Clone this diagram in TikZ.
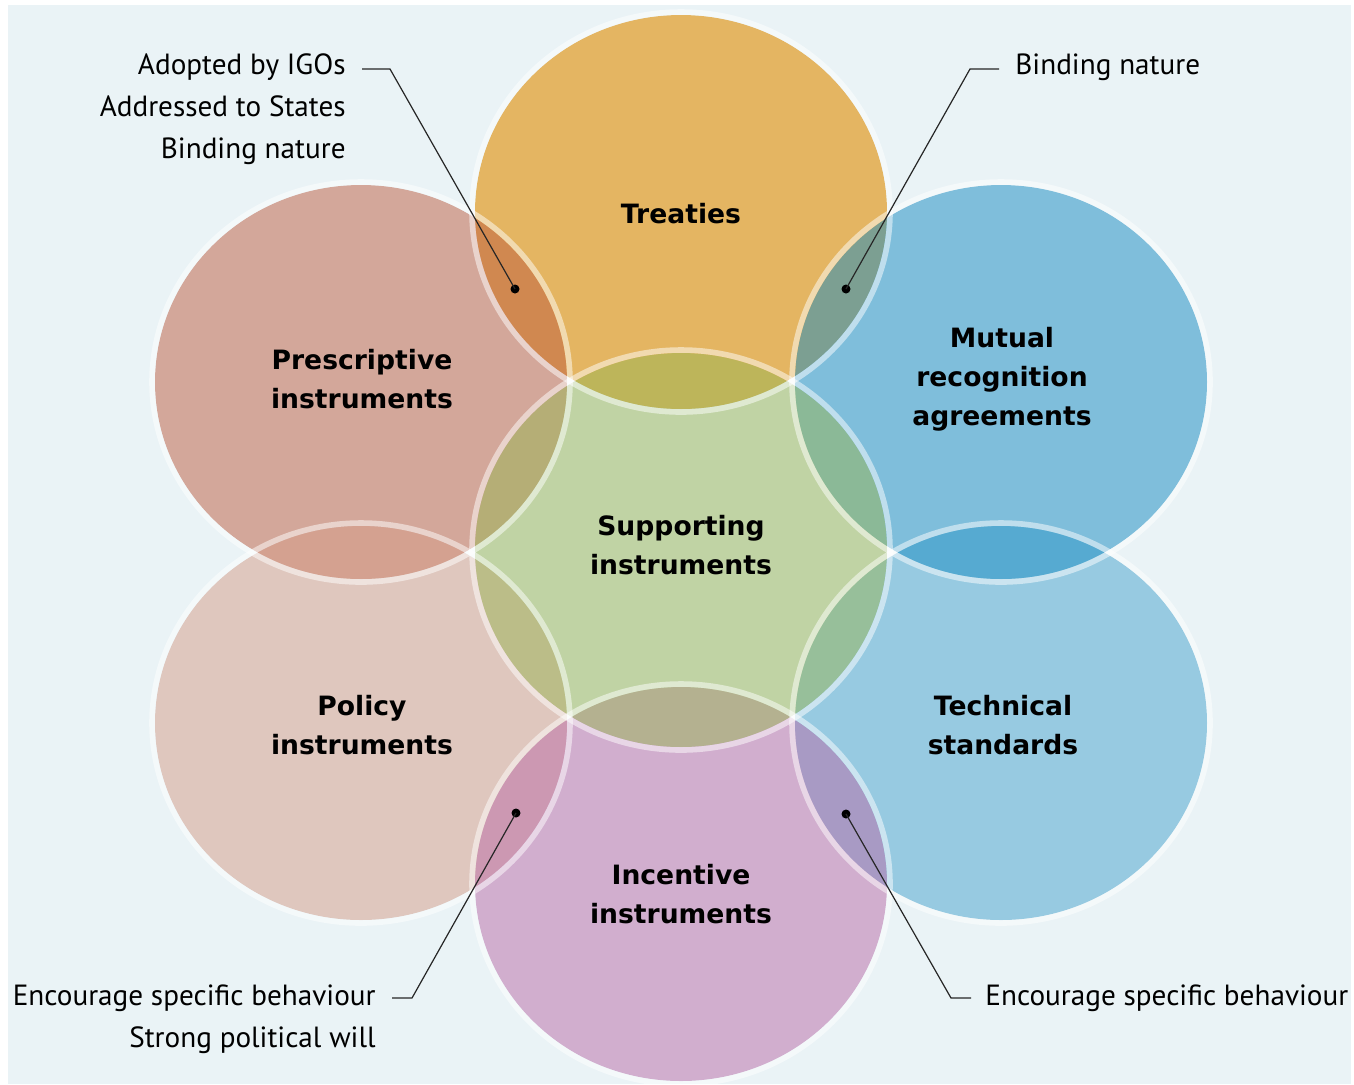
\documentclass[tikz,border=0pt]{standalone}
\usepackage{fontspec}
\setmainfont{PT Sans}
\newfontfamily\titlefont{DejaVu Sans}
\usepackage{tikz}
\definecolor{bgblue}{RGB}{234,243,246}
\definecolor{treatycol}{RGB}{225,149,20}
\definecolor{prescol}{RGB}{190,93,64}
\definecolor{mutualcol}{RGB}{22,139,194}
\definecolor{suppcol}{RGB}{152,181,84}
\definecolor{policycol}{RGB}{214,157,136}
\definecolor{techcol}{RGB}{70,163,206}
\definecolor{incentcol}{RGB}{186,107,168}
\tikzset{circ/.style = {fill, circle, inner sep = 0, minimum size = 4.5}}
\tikzset{bubble/.style = {fill opacity = 0.5}}
\tikzset{rim/.style = {draw = white, draw opacity = 0.5, line width = 2.8pt}}
\tikzset{title/.style = {font = \titlefont\bfseries\fontsize{13.3}{19.5}\selectfont, align = center}}
\tikzset{note/.style = {font = \fontsize{14.6}{21}\selectfont, inner sep = 0}}
\tikzset{leader/.style = {draw = black!85, line width = 0.6pt}}

\begin{document}
\begin{tikzpicture}[x = 0.5pt, y = -0.5pt]
    \useasboundingbox (0, 0) rectangle (1354, 1084);
    \fill [white] (0, 0) rectangle (1354, 1084);
    \fill [bgblue] (8, 5) rectangle (1351, 1084);

    \fill [treatycol, fill opacity = 0.65] (681, 212) ellipse [x radius = 206, y radius = 197];
    \fill [prescol, bubble] (361, 382) ellipse [x radius = 206, y radius = 197];
    \fill [techcol, bubble] (1001, 723) ellipse [x radius = 206, y radius = 197];
    \fill [mutualcol, bubble] (1001, 382) ellipse [x radius = 206, y radius = 197];
    \fill [policycol, bubble] (361, 723) ellipse [x radius = 206, y radius = 197];
    \fill [incentcol, bubble] (681, 884) ellipse [x radius = 206, y radius = 197];
    \fill [suppcol, bubble] (681, 550) ellipse [x radius = 206, y radius = 197];

    \foreach \cx/\cy in {681/212, 361/382, 1001/382, 681/550, 361/723, 1001/723, 681/884}
      \draw [rim] (\cx, \cy) ellipse [x radius = 209, y radius = 200];

    \node [title] (treaties) at (681, 214) {Treaties};
    \node [title] (prescriptive) at (362, 379) {Prescriptive\\instruments};
    \node [title] (mutual) at (1002, 379) {Mutual\\recognition\\agreements};
    \node [title] (supporting) at (681, 545) {Supporting\\instruments};
    \node [title] (policy) at (362, 725) {Policy\\instruments};
    \node [title] (technical) at (1003, 725) {Technical\\standards};
    \node [title] (incentive) at (681, 894) {Incentive\\instruments};

    \node [note, anchor = base east] (adopted) at (346, 74) {Adopted by IGOs};
    \node [note, anchor = base east] (addressed) at (346, 116) {Addressed to States};
    \node [note, anchor = base east] (bindingL) at (346, 158) {Binding nature};
    \node [note, anchor = base west] (bindingR) at (1015, 74) {Binding nature};
    \node [note, anchor = base east] (encourageL) at (376, 1005) {Encourage specific behaviour};
    \node [note, anchor = base east] (strong) at (376, 1047) {Strong political will};
    \node [note, anchor = base west] (encourageR) at (985, 1005) {Encourage specific behaviour};

    \node [circ] (dotTL) at (515, 289) {};
    \node [circ] (dotTR) at (846, 289) {};
    \node [circ] (dotBL) at (516, 813) {};
    \node [circ] (dotBR) at (846, 814) {};

    \coordinate (bendTL) at (390, 69);
    \coordinate (bendTR) at (970, 69);
    \coordinate (bendBL) at (412, 998);
    \coordinate (bendBR) at (951, 998);

    \draw [leader] (adopted.east |- bendTL) ++(16, 0) -- (bendTL) -- (dotTL.center);
    \draw [leader] (bindingR.west |- bendTR) ++(-16, 0) -- (bendTR) -- (dotTR.center);
    \draw [leader] (encourageL.east |- bendBL) ++(16, 0) -- (bendBL) -- (dotBL.center);
    \draw [leader] (encourageR.west |- bendBR) ++(-14, 0) -- (bendBR) -- (dotBR.center);
  \end{tikzpicture}
\end{document}
